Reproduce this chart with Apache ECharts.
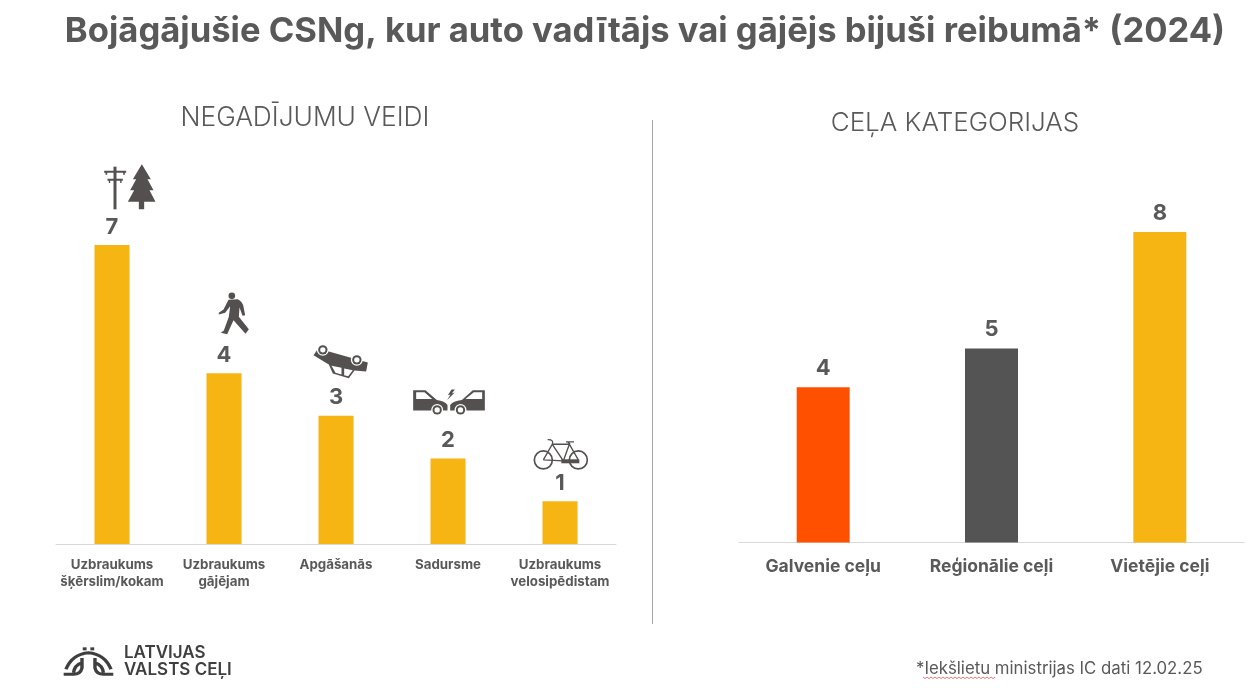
<!DOCTYPE html>
<html>
<head>
<meta charset="utf-8">
<style>html,body{margin:0;background:#fff}#main{width:1247px;height:692px}</style>
<script src="https://cdn.jsdelivr.net/npm/echarts@6/dist/echarts.min.js"></script>
</head>
<body>
<div id="main"></div>
<script>
const accidentTypes = ['Uzbraukums\nšķērslim/kokam', 'Uzbraukums\ngājējam', 'Apgāšanās', 'Sadursme', 'Uzbraukums\nvelosipēdistam'];
const accidentValues = [7, 4, 3, 2, 1];
const roadTypes = ['Galvenie ceļu', 'Reģionālie ceļi', 'Vietējie ceļi'];
const roadValues = [4, 5, 8];
const roadColors = ['#FF5000', '#545454', '#F6B513'];

const FONT = 'Inter';
const DARK = '#545050';
const TEXT = '#595959';

// icons are traced at 3x, so they get scale 1/3 when drawn
function dark(d) { return { type: 'path', shape: { pathData: d }, style: { fill: DARK } }; }
function white(d) { return { type: 'path', shape: { pathData: d }, style: { fill: '#fff' } }; }
function line(d, w) { return { type: 'path', shape: { pathData: d }, style: { fill: 'none', stroke: DARK, lineWidth: w } }; }
function disc(cx, cy, r, fill) { return { type: 'circle', shape: { cx, cy, r }, style: { fill } }; }
function wheel(cx, cy) {
  return [disc(cx, cy, 18, '#fff'), disc(cx, cy, 14, DARK), disc(cx, cy, 8, '#fff')];
}

const icons = [
  { dx: -32.5, dy: -95, parts: [
    dark('M102 50 H111 V178 H102 Z'),
    dark('M74 62 H140 V68 H74 Z M84 86 H130 V92 H84 Z M78 68 H83 V74 H78 Z M131 68 H136 V74 H131 Z M88 92 H92 V99 H88 Z M122 92 H126 V99 H122 Z'),
    dark('M187 43 L214 88 L204 88 L222 121 L210 121 L228 155 L194 155 V178 H178 V155 L145 155 L164 121 L152 121 L170 88 L160 88 Z')
  ] },
  { dx: -144.5, dy: -223, parts: [
    disc(457, 437, 10, DARK),
    dark('M447 449 L475 447 Q490 455 492 470 L497 495 L489 497 L480 472 L478 500 L508 537 L498 551 L462 510 L443 552 L424 548 L433 541 L448 500 L452 468 L437 488 L418 493 L418 488 L432 478 Z')
  ] },
  { dx: -36.5, dy: -86, parts: [
    dark('M42 76 L56 56 L205 98 L200 125 L165 122 L148 145 L100 131 L88 104 Z'),
    white('M96 108 L126 114 L126 134 L108 129 Z M134 116 L160 121 L146 139 L134 136 Z'),
    ...wheel(70, 60), ...wheel(172, 90)
  ] },
  { dx: -148.5, dy: -129, parts: [
    dark('M341 182 H378 L412 211 Q436 214 444 226 V243 H341 Z'),
    dark('M556 182 H520 L487 211 Q460 214 452 226 V243 H556 Z'),
    white('M350 188 H375 L398 208 H350 Z M548 188 H523 L498 208 H548 Z'),
    dark('M456 180 L445 197 L453 195 L443 211 L466 189 L457 192 L466 180 Z'),
    ...wheel(413, 241), ...wheel(483, 241)
  ] },
  { dx: -260, dy: -172, parts: [
    line('M757 392 A27 27 0 1 1 703 392 A27 27 0 1 1 757 392 M862 392 A27 27 0 1 1 808 392 A27 27 0 1 1 862 392', 5),
    line('M730 392 L757 345 L808 345 L835 392 M757 345 L790 395 L808 345 M730 392 L790 395 M757 345 Q762 330 743 331 M810 345 L804 338 M798 338 H822', 4),
    dark('M784 390 H838 V402 H784 Z')
  ] }
];

// the graphic component has no plain path type, so the logo is registered as a shape
echarts.graphic.registerShape('logoArches', echarts.graphic.extendPath(
  'M68 388 Q84 342 127 338 Q170 342 186 388 M62 403 H88 Q106 403 110 384 V354 M192 403 H166 Q148 403 144 384 V354 M88 398 Q90 376 110 368 M166 398 Q164 376 144 368',
  {}
));

const chart = echarts.init(document.getElementById('main'));

// short zigzag under the flagged word in the footnote
const squiggle = [];
for (let i = 0; i <= 36; i++) squiggle.push([923 + i * 2, 677 + (i % 2) * 1.6]);

const option = {
  backgroundColor: '#fff',
  animation: false,
  title: [
    { text: 'Bojāgājušie CSNg, kur auto vadītājs vai gājējs bijuši reibumā* (2024)', left: 640, top: 9, textAlign: 'center',
      textStyle: { fontFamily: FONT, fontSize: 34.6, fontWeight: 700, color: TEXT } },
    { text: 'NEGADĪJUMU VEIDI', left: 300, top: 100, textAlign: 'center',
      textStyle: { fontFamily: FONT, fontSize: 26.3, fontWeight: 300, color: TEXT } },
    { text: 'CEĻA KATEGORIJAS', left: 950, top: 105, textAlign: 'center',
      textStyle: { fontFamily: FONT, fontSize: 26, fontWeight: 300, color: TEXT } }
  ],
  grid: [
    { left: 56, width: 560, top: 245, height: 299 },
    { left: 739, width: 505, top: 232, height: 310.5 }
  ],
  xAxis: [
    { type: 'category', gridIndex: 0, data: accidentTypes,
      axisTick: { show: false },
      axisLine: { lineStyle: { color: '#d9d9d9' } },
      axisLabel: { interval: 0, margin: 12, lineHeight: 17, fontFamily: FONT, fontSize: 13.3, fontWeight: 700, color: TEXT } },
    { type: 'category', gridIndex: 1, data: roadTypes,
      axisTick: { show: false },
      axisLine: { lineStyle: { color: '#d9d9d9' } },
      axisLabel: { interval: 0, margin: 15, fontFamily: FONT, fontSize: 17.5, fontWeight: 700, color: TEXT } }
  ],
  yAxis: [
    { type: 'value', gridIndex: 0, min: 0, max: 7, show: false },
    { type: 'value', gridIndex: 1, min: 0, max: 8, show: false }
  ],
  series: [
    { type: 'bar', xAxisIndex: 0, yAxisIndex: 0, data: accidentValues, barWidth: 35,
      itemStyle: { color: '#F6B513' },
      label: { show: true, position: 'top', distance: 7, fontFamily: FONT, fontSize: 22, fontWeight: 700, color: TEXT } },
    { type: 'bar', xAxisIndex: 1, yAxisIndex: 1, barWidth: 53,
      data: roadValues.map((v, i) => ({ value: v, itemStyle: { color: roadColors[i] } })),
      label: { show: true, position: 'top', distance: 8, fontFamily: FONT, fontSize: 22, fontWeight: 700, color: TEXT } },
    { type: 'custom', xAxisIndex: 0, yAxisIndex: 0, silent: true, clip: false,
      data: accidentValues.map((v, i) => [i, v]),
      renderItem(params, api) {
        const p = api.coord([api.value(0), api.value(1)]);
        const icon = icons[params.dataIndex];
        return { type: 'group', x: p[0] + icon.dx, y: p[1] + icon.dy, scaleX: 1 / 3, scaleY: 1 / 3, children: icon.parts };
      } }
  ],
  graphic: [
    { type: 'line', shape: { x1: 652.5, y1: 120, x2: 652.5, y2: 624 }, style: { stroke: '#a6a6a6', lineWidth: 1 } },
    { type: 'group', x: 40, y: 540, scaleX: 1 / 2.62, scaleY: 1 / 3, children: [
      { type: 'logoArches', style: { fill: 'none', stroke: '#3f3f3f', lineWidth: 9 } },
      { type: 'rect', shape: { x: 112, y: 322, width: 10, height: 9 }, style: { fill: '#3f3f3f' } },
      { type: 'rect', shape: { x: 132, y: 322, width: 10, height: 9 }, style: { fill: '#3f3f3f' } }
    ] },
    { type: 'text', x: 124, y: 644, style: { text: 'LATVIJAS', fontFamily: FONT, fontSize: 17, fontWeight: 600, fill: '#3f3f3f' } },
    { type: 'text', x: 124, y: 661, style: { text: 'VALSTS CEĻI', fontFamily: FONT, fontSize: 17, fontWeight: 600, fill: '#3f3f3f' } },
    { type: 'text', x: 916, y: 660, style: { text: '*Iekšlietu ministrijas IC dati 12.02.25', fontFamily: FONT, fontSize: 16.8, fontWeight: 400, fill: TEXT } },
    { type: 'polyline', shape: { points: squiggle }, style: { fill: 'none', stroke: '#e04040', lineWidth: 0.7 } }
  ]
};

chart.setOption(option);
</script>
</body>
</html>
